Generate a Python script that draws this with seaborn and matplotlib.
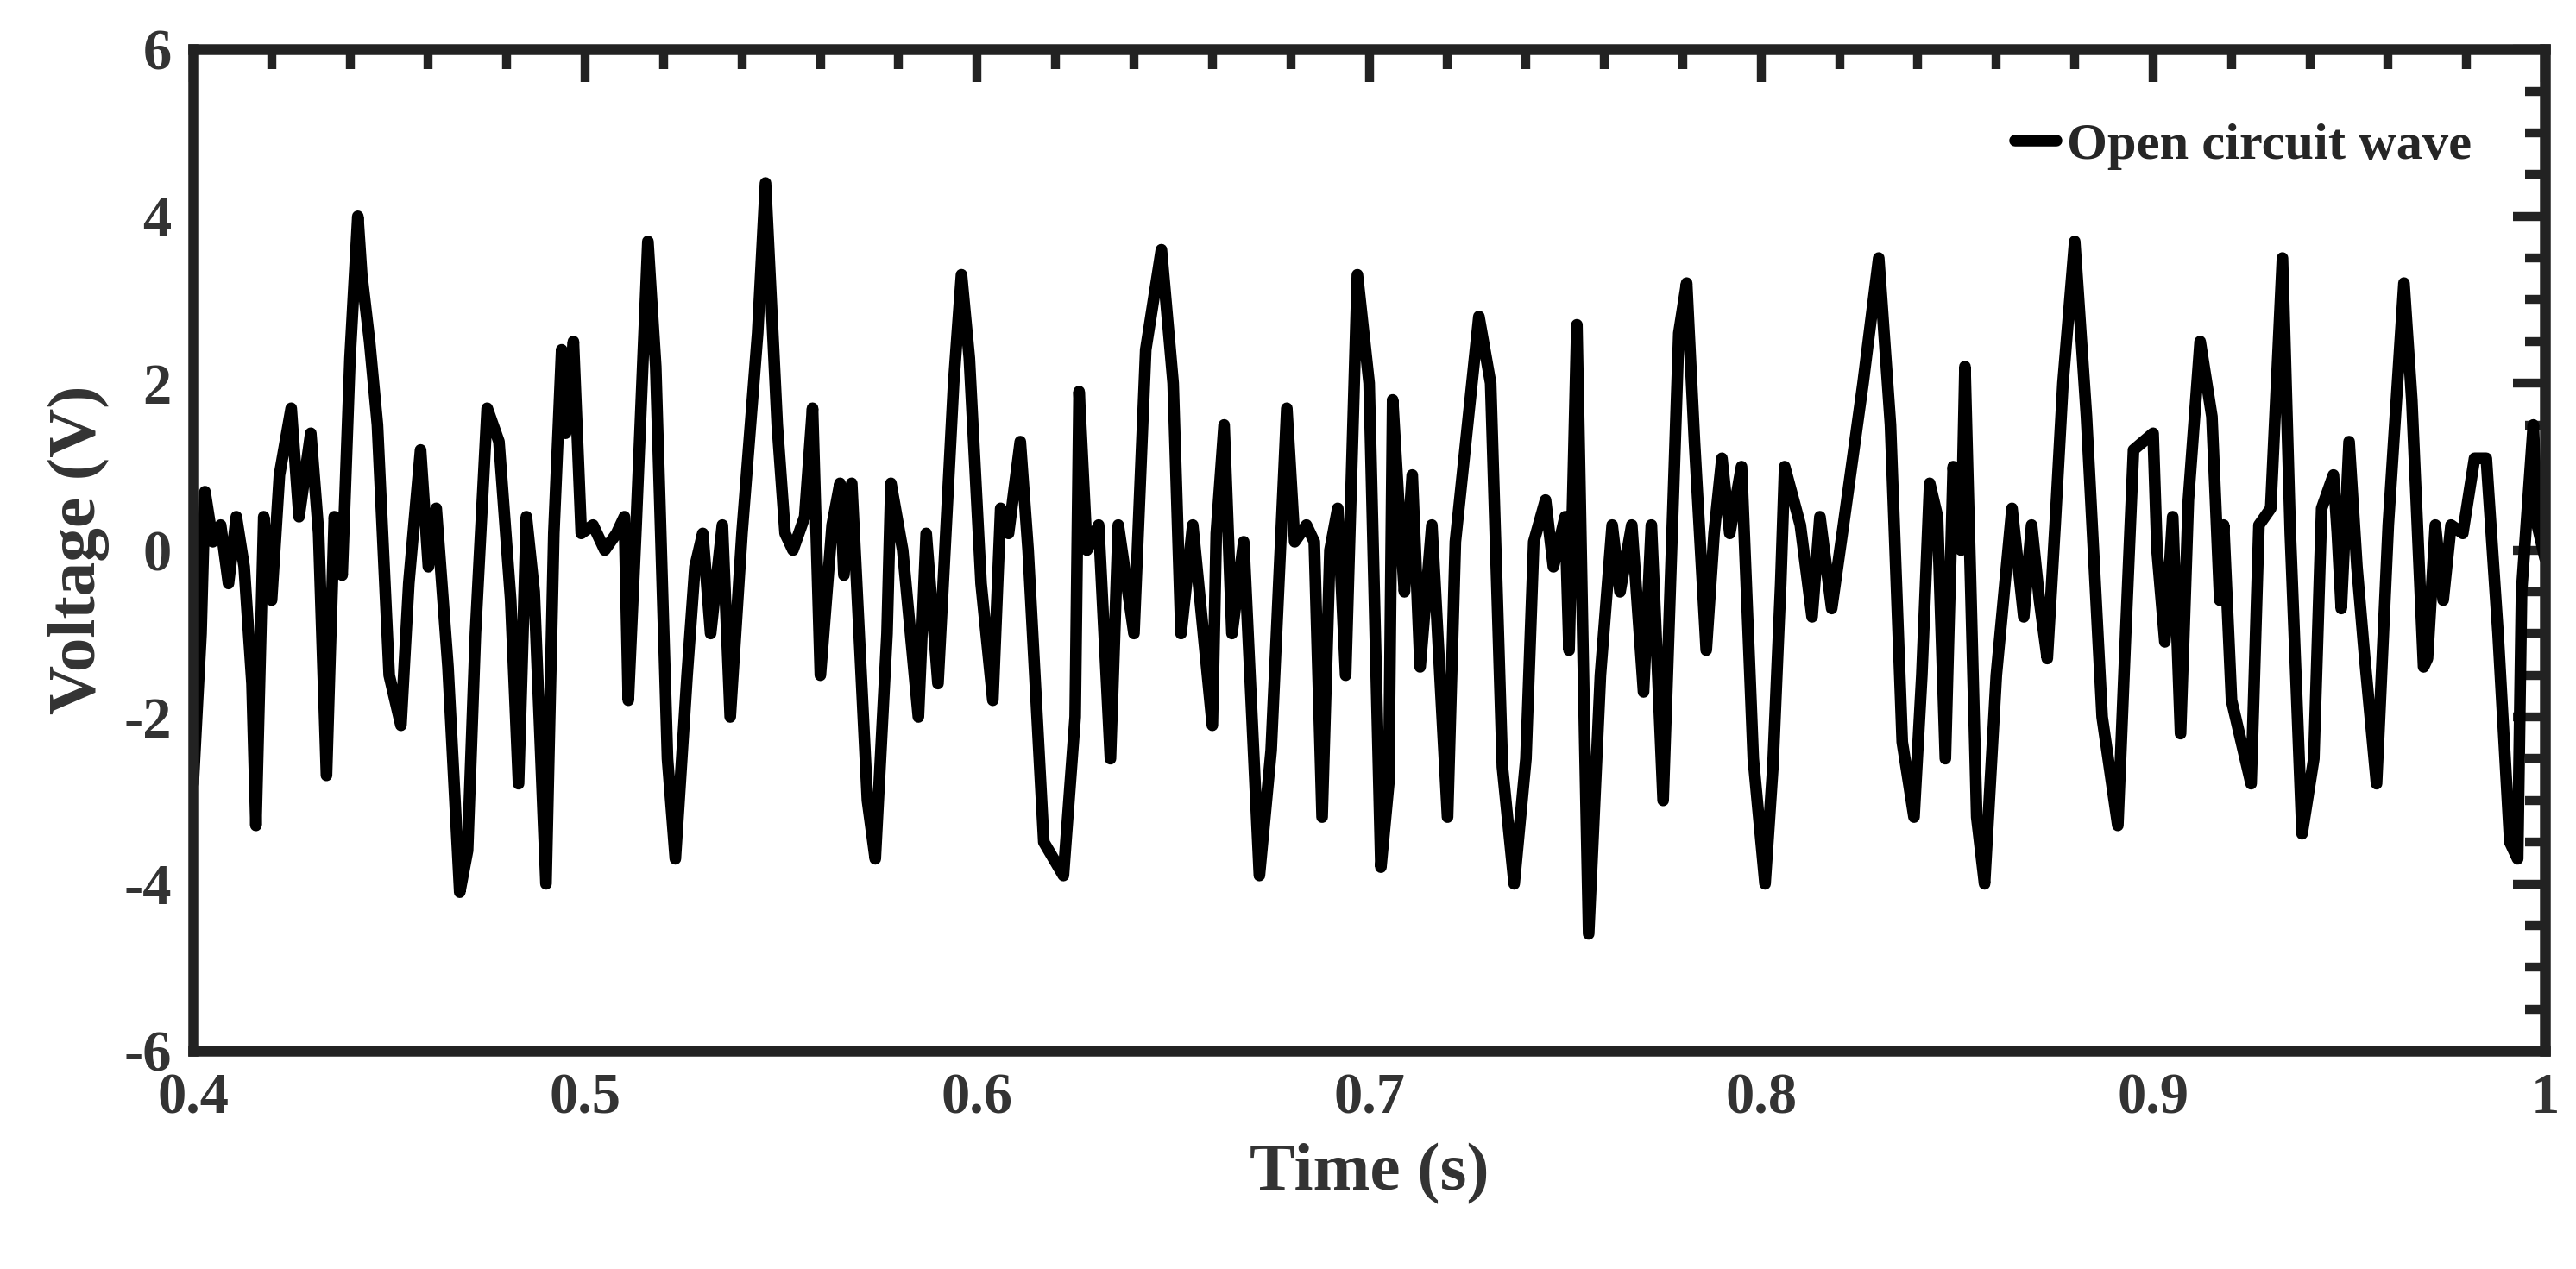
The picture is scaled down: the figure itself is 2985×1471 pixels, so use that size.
import matplotlib
matplotlib.use("Agg")
import matplotlib.pyplot as plt
import seaborn as sns
from matplotlib.ticker import MultipleLocator

# waveform (time in s, voltage in V)
time_s = [0.400, 0.402, 0.403, 0.405, 0.407, 0.409, 0.411, 0.413, 0.415, 0.416, 0.418, 0.420, 0.422,
          0.425, 0.427, 0.430, 0.432, 0.434, 0.436, 0.438, 0.440, 0.442, 0.443, 0.445, 0.447, 0.450,
          0.453, 0.455, 0.458, 0.460, 0.462, 0.465, 0.468, 0.470, 0.472, 0.475, 0.478, 0.481, 0.483,
          0.485, 0.487, 0.490, 0.492, 0.494, 0.495, 0.497, 0.499, 0.502, 0.505, 0.508, 0.510, 0.511,
          0.513, 0.516, 0.518, 0.521, 0.523, 0.526, 0.528, 0.530, 0.532, 0.535, 0.537, 0.540, 0.544,
          0.546, 0.549, 0.551, 0.553, 0.556, 0.558, 0.560, 0.563, 0.565, 0.566, 0.568, 0.572, 0.574,
          0.577, 0.578, 0.581, 0.585, 0.587, 0.590, 0.594, 0.596, 0.598, 0.601, 0.604, 0.606, 0.608,
          0.611, 0.613, 0.617, 0.622, 0.625, 0.626, 0.628, 0.631, 0.634, 0.636, 0.640, 0.643, 0.647,
          0.650, 0.652, 0.655, 0.660, 0.661, 0.663, 0.665, 0.668, 0.672, 0.675, 0.679, 0.681, 0.684,
          0.686, 0.688, 0.690, 0.692, 0.694, 0.697, 0.700, 0.703, 0.705, 0.706, 0.708, 0.709, 0.711,
          0.713, 0.716, 0.720, 0.722, 0.728, 0.731, 0.734, 0.737, 0.740, 0.742, 0.745, 0.747, 0.750,
          0.751, 0.753, 0.755, 0.756, 0.759, 0.762, 0.764, 0.767, 0.770, 0.772, 0.775, 0.779, 0.781,
          0.783, 0.786, 0.788, 0.790, 0.792, 0.795, 0.798, 0.801, 0.803, 0.805, 0.806, 0.810, 0.813,
          0.815, 0.818, 0.821, 0.826, 0.830, 0.833, 0.836, 0.839, 0.841, 0.843, 0.845, 0.847, 0.849,
          0.851, 0.852, 0.855, 0.857, 0.860, 0.864, 0.867, 0.869, 0.871, 0.873, 0.875, 0.877, 0.880,
          0.883, 0.887, 0.891, 0.893, 0.895, 0.900, 0.901, 0.903, 0.905, 0.907, 0.909, 0.912, 0.915,
          0.917, 0.918, 0.920, 0.925, 0.927, 0.930, 0.933, 0.935, 0.938, 0.941, 0.943, 0.946, 0.947,
          0.948, 0.950, 0.952, 0.954, 0.957, 0.960, 0.964, 0.966, 0.969, 0.970, 0.972, 0.974, 0.976,
          0.979, 0.982, 0.985, 0.988, 0.991, 0.993, 0.994, 0.997, 0.998, 1.000]
voltage = [-2.8, -1.0, 0.7, 0.1, 0.3, -0.4, 0.4, -0.2, -1.6, -3.3, 0.4, -0.6, 0.9,
           1.7, 0.4, 1.4, 0.2, -2.7, 0.4, -0.3, 2.3, 4.0, 3.3, 2.5, 1.5, -1.5,
           -2.1, -0.4, 1.2, -0.2, 0.5, -1.4, -4.1, -3.6, -1.0, 1.7, 1.3, -0.6, -2.8,
           0.4, -0.5, -4.0, 0.2, 2.4, 1.4, 2.5, 0.2, 0.3, 0.0, 0.2, 0.4, -1.8,
           0.3, 3.7, 2.2, -2.5, -3.7, -1.5, -0.2, 0.2, -1.0, 0.3, -2.0, 0.2, 2.6,
           4.4, 1.5, 0.2, 0.0, 0.4, 1.7, -1.5, 0.3, 0.8, -0.3, 0.8, -3.0, -3.7,
           -1.0, 0.8, 0.0, -2.0, 0.2, -1.6, 2.0, 3.3, 2.3, -0.4, -1.8, 0.5, 0.2,
           1.3, 0.0, -3.5, -3.9, -2.0, 1.9, 0.0, 0.3, -2.5, 0.3, -1.0, 2.4, 3.6,
           2.0, -1.0, 0.3, -2.1, 0.2, 1.5, -1.0, 0.1, -3.9, -2.4, 1.7, 0.1, 0.3,
           0.1, -3.2, 0.0, 0.5, -1.5, 3.3, 2.0, -3.8, -2.8, 1.8, 0.2, -0.5, 0.9,
           -1.4, 0.3, -3.2, 0.1, 2.8, 2.0, -2.6, -4.0, -2.5, 0.1, 0.6, -0.2, 0.4,
           -1.2, 2.7, -2.3, -4.6, -1.5, 0.3, -0.5, 0.3, -1.7, 0.3, -3.0, 2.6, 3.2,
           1.3, -1.2, 0.2, 1.1, 0.2, 1.0, -2.5, -4.0, -2.6, -0.4, 1.0, 0.3, -0.8,
           0.4, -0.7, 0.3, 2.0, 3.5, 1.5, -2.3, -3.2, -1.5, 0.8, 0.4, -2.5, 1.0,
           0.0, 2.2, -3.2, -4.0, -1.5, 0.5, -0.8, 0.3, -0.6, -1.3, 0.3, 2.0, 3.7,
           1.6, -2.0, -3.3, -1.0, 1.2, 1.4, 0.0, -1.1, 0.4, -2.2, 0.6, 2.5, 1.6,
           -0.6, 0.3, -1.8, -2.8, 0.3, 0.5, 3.5, 0.2, -3.4, -2.5, 0.5, 0.9, 0.2,
           -0.7, 1.3, -0.2, -1.3, -2.8, 0.3, 3.2, 1.8, -1.4, -1.3, 0.3, -0.6, 0.3,
           0.2, 1.1, 1.1, -1.0, -3.5, -3.7, -0.5, 1.5, 0.3, -0.1]

x_ticks = [0.4, 0.5, 0.6, 0.7, 0.8, 0.9, 1.0]
x_tick_labels = ["0.4", "0.5", "0.6", "0.7", "0.8", "0.9", "1"]
y_ticks = [-6, -4, -2, 0, 2, 4, 6]
y_tick_labels = ["-6", "-4", "-2", "0", "2", "4", "6"]

sns.set_style("white")
plt.rcParams["font.family"] = ["Liberation Serif", "DejaVu Serif"]
plt.rcParams["font.weight"] = "bold"
plt.rcParams["axes.unicode_minus"] = False

fig = plt.figure(figsize=(19.9, 9.807), dpi=150)
ax = fig.add_axes([0.075, 0.172, 0.913, 0.789])

sns.lineplot(x=time_s, y=voltage, ax=ax, color="black", lw=6.5,
             label="Open circuit wave", sort=False)

ax.set_xlim(0.4, 1.0)
ax.set_ylim(-6, 6)
ax.set_xticks(x_ticks)
ax.set_xticklabels(x_tick_labels)
ax.set_yticks(y_ticks)
ax.set_yticklabels(y_tick_labels)
ax.xaxis.set_minor_locator(MultipleLocator(0.02))
ax.yaxis.set_minor_locator(MultipleLocator(0.5))
ax.tick_params(which="both", direction="in", top=True, right=True, color="#222222")
ax.tick_params(which="major", length=18, width=5, labelsize=32, pad=12)
ax.tick_params(which="minor", length=11, width=5)
for lab in ax.get_xticklabels() + ax.get_yticklabels():
    lab.set_fontweight("bold")
    lab.set_color("#333333")
for s in ax.spines.values():
    s.set_linewidth(6)
    s.set_color("#222222")

ax.set_xlabel("Time (s)", fontsize=38, fontweight="bold", color="#333333", labelpad=10)
ax.set_ylabel("Voltage (V)", fontsize=38, fontweight="bold", color="#333333", labelpad=8)

leg = ax.legend(loc="upper right", frameon=False, fontsize=29, handlelength=0.8,
                handletextpad=0.2, borderaxespad=1.0)
for t in leg.get_texts():
    t.set_fontweight("bold")

fig.savefig("out.png", dpi=150)
